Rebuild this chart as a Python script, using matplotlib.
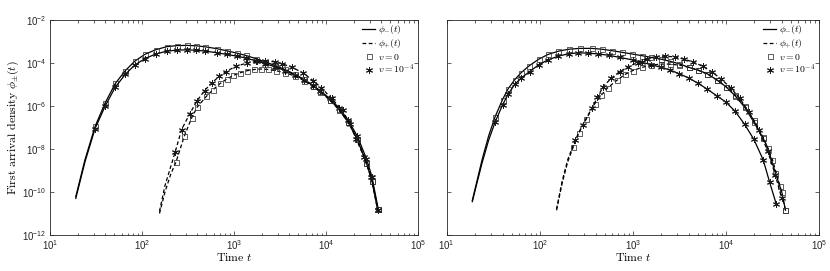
import numpy as np
import matplotlib
matplotlib.use("Agg")
import matplotlib.pyplot as plt
from matplotlib.lines import Line2D
from matplotlib.ticker import LogLocator, NullFormatter, NullLocator

plt.rcParams['font.family'] = ['Liberation Sans', 'DejaVu Sans']
plt.rcParams['mathtext.fontset'] = 'cm'

# values, stored as log10(t) and log10(phi)
# ---- left panel ----
L_minus_v0_t = [1.28, 1.38, 1.49, 1.60, 1.71, 1.82, 1.92, 2.03, 2.15, 2.27, 2.38, 2.49, 2.59,
                2.69, 2.81, 2.92, 3.03, 3.13, 3.24, 3.34, 3.45, 3.55, 3.66, 3.76, 3.86, 3.94,
                4.04, 4.14, 4.24, 4.34, 4.44, 4.50, 4.56]
L_minus_v0 = [-10.22, -8.5, -6.95, -5.85, -4.95, -4.35, -3.92, -3.6, -3.38, -3.24, -3.19, -3.18,
              -3.2, -3.25, -3.33, -3.43, -3.54, -3.65, -3.80, -3.95, -4.12, -4.30, -4.52, -4.76,
              -5.05, -5.32, -5.70, -6.15, -6.75, -7.55, -8.65, -9.5, -10.8]
L_minus_v1_t = [1.28, 1.38, 1.49, 1.60, 1.71, 1.82, 1.92, 2.03, 2.15, 2.27, 2.38, 2.49, 2.59,
                2.69, 2.81, 2.92, 3.03, 3.13, 3.24, 3.34, 3.45, 3.55, 3.66, 3.76, 3.86, 3.94,
                4.04, 4.14, 4.24, 4.34, 4.44, 4.50, 4.57]
L_minus_v1 = [-10.3, -8.6, -7.05, -6.0, -5.12, -4.52, -4.1, -3.8, -3.58, -3.45, -3.40, -3.39,
              -3.41, -3.45, -3.52, -3.60, -3.68, -3.77, -3.90, -4.03, -4.18, -4.35, -4.55, -4.78,
              -5.05, -5.3, -5.65, -6.08, -6.65, -7.4, -8.45, -9.3, -10.85]
L_plus_v0_t = [2.19, 2.25, 2.31, 2.37, 2.46, 2.54, 2.60, 2.70, 2.77, 2.85, 2.92, 2.99, 3.07,
               3.14, 3.22, 3.29, 3.37, 3.46, 3.55, 3.66, 3.76, 3.86, 3.94, 4.04, 4.14, 4.24,
               4.34, 4.44, 4.50, 4.56]
L_plus_v0 = [-11.0, -10.0, -9.2, -8.6, -7.4, -6.55, -6.05, -5.55, -5.25, -4.95, -4.75, -4.58,
             -4.45, -4.36, -4.30, -4.28, -4.30, -4.36, -4.45, -4.6, -4.82, -5.08, -5.35, -5.72,
             -6.17, -6.75, -7.55, -8.65, -9.5, -10.8]
L_plus_v1_t = [2.19, 2.25, 2.31, 2.36, 2.43, 2.52, 2.60, 2.68, 2.76, 2.84, 2.91, 3.02, 3.14,
               3.25, 3.34, 3.45, 3.52, 3.63, 3.75, 3.86, 3.95, 4.06, 4.18, 4.26, 4.33, 4.41,
               4.49, 4.57]
L_plus_v1 = [-10.9, -9.7, -8.85, -8.15, -7.1, -6.35, -5.75, -5.28, -4.92, -4.62, -4.40, -4.16,
             -4.0, -3.92, -3.9, -3.95, -4.03, -4.2, -4.46, -4.82, -5.15, -5.65, -6.2, -6.85,
             -7.55, -8.35, -9.3, -10.85]

# ---- right panel ----
R_minus_v0_t = [1.275, 1.33, 1.38, 1.45, 1.52, 1.60, 1.66, 1.73, 1.80, 1.88, 1.99, 2.09, 2.20,
                2.31, 2.43, 2.56, 2.67, 2.78, 2.88, 2.99, 3.1, 3.2, 3.3, 3.4, 3.5, 3.6, 3.7,
                3.8, 3.9, 4.0, 4.1, 4.2, 4.3, 4.4, 4.45, 4.53, 4.6, 4.64]
R_minus_v0 = [-10.4, -9.4, -8.5, -7.4, -6.5, -5.7, -5.2, -4.78, -4.45, -4.15, -3.82, -3.6, -3.45,
              -3.36, -3.32, -3.32, -3.36, -3.43, -3.5, -3.58, -3.66, -3.74, -3.82, -3.92, -4.04,
              -4.2, -4.33, -4.5, -4.78, -5.1, -5.53, -6.05, -6.75, -7.5, -7.95, -9.1, -10.0, -10.85]
R_minus_v1_t = [1.275, 1.33, 1.38, 1.45, 1.52, 1.60, 1.66, 1.73, 1.80, 1.89, 1.99, 2.09, 2.20,
                2.31, 2.41, 2.52, 2.63, 2.74, 2.86, 3.0, 3.1, 3.2, 3.3, 3.4, 3.5, 3.6, 3.7,
                3.8, 3.9, 4.0, 4.1, 4.2, 4.3, 4.4, 4.47, 4.54]
R_minus_v1 = [-10.45, -9.5, -8.65, -7.6, -6.75, -5.95, -5.45, -5.0, -4.7, -4.4, -4.08, -3.85,
              -3.68, -3.57, -3.53, -3.54, -3.58, -3.64, -3.74, -3.86, -3.97, -4.08, -4.2, -4.33,
              -4.5, -4.7, -4.94, -5.22, -5.52, -5.82, -6.25, -6.85, -7.55, -8.5, -9.55, -10.55]
R_plus_v0_t = [2.18, 2.24, 2.30, 2.36, 2.42, 2.50, 2.59, 2.66, 2.73, 2.83, 2.92, 3.0, 3.1, 3.2,
               3.3, 3.4, 3.5, 3.6, 3.7, 3.8, 3.9, 4.0, 4.1, 4.2, 4.3, 4.4, 4.5, 4.58, 4.64]
R_plus_v0 = [-10.85, -9.6, -8.6, -7.9, -7.25, -6.6, -5.9, -5.5, -5.15, -4.8, -4.52, -4.35, -4.2,
             -4.1, -4.05, -4.05, -4.1, -4.2, -4.33, -4.52, -4.78, -5.1, -5.5, -6.0, -6.65, -7.45,
             -8.5, -9.7, -10.85]
R_plus_v1_t = [2.18, 2.24, 2.30, 2.38, 2.46, 2.56, 2.62, 2.68, 2.77, 2.86, 2.95, 3.05, 3.15,
               3.25, 3.35, 3.45, 3.55, 3.65, 3.75, 3.85, 3.95, 4.05, 4.15, 4.25, 4.35, 4.45,
               4.53, 4.60]
R_plus_v1 = [-10.8, -9.5, -8.5, -7.6, -6.88, -6.1, -5.6, -5.1, -4.7, -4.4, -4.18, -3.98, -3.8,
             -3.70, -3.68, -3.72, -3.82, -3.96, -4.15, -4.42, -4.75, -5.15, -5.65, -6.3, -7.1,
             -8.1, -9.2, -10.3]

# index of the first point that carries a marker (simulation points start later than theory)
left_marker_start = {'minus': 2, 'plus': 3}
right_marker_start = {'minus': 4, 'plus': 3}

sq_style = dict(ls='none', marker='s', ms=3.6, mfc='none', mec='#333333', mew=0.55)
st_style = dict(ls='none', marker=(6, 2, 0), ms=5.0, mec='#1a1a1a', mew=0.7)
dash = (3.0, 2.0)


def draw_panel(ax, curves, mstart):
    for (lt, lp, kind, v) in curves:
        t = 10 ** np.array(lt)
        p = 10 ** np.array(lp)
        if kind == 'minus':
            ax.plot(t, p, color='k', lw=0.9)
        else:
            ax.plot(t, p, color='k', lw=0.9, dashes=dash)
        style = sq_style if v == 0 else st_style
        ax.plot(t[mstart[kind]:], p[mstart[kind]:], **style)

    ax.set_xscale('log')
    ax.set_yscale('log')
    ax.set_xlim(1e1, 1e5)
    ax.set_ylim(1e-12, 1e-2)
    ax.set_yticks([1e-12, 1e-10, 1e-8, 1e-6, 1e-4, 1e-2])
    ax.yaxis.set_minor_locator(NullLocator())
    ax.xaxis.set_major_locator(LogLocator(base=10, numticks=10))
    ax.xaxis.set_minor_locator(LogLocator(base=10, subs=np.arange(2, 10), numticks=20))
    ax.xaxis.set_minor_formatter(NullFormatter())
    ax.tick_params(which='both', direction='in', top=True, right=True,
                   labelsize=7, colors='#262626', width=0.5)
    ax.tick_params(which='major', length=3, pad=2.5)
    ax.tick_params(which='minor', length=1.8)
    for s in ax.spines.values():
        s.set_linewidth(0.6)
        s.set_color('#262626')
    ax.set_xlabel(r'$\mathrm{Time}\ t$', fontsize=8.5, labelpad=0)

    handles = [Line2D([], [], color='k', lw=0.9),
               Line2D([], [], color='k', lw=0.9, dashes=dash),
               Line2D([], [], **sq_style),
               Line2D([], [], **st_style)]
    labels = [r'$\phi_{-}(t)$', r'$\phi_{+}(t)$', r'$v=0$', r'$v=10^{-4}$']
    ax.legend(handles, labels, loc='upper right', frameon=False, fontsize=7,
              handlelength=1.4, handletextpad=0.3, labelspacing=0.1,
              borderaxespad=0.15, borderpad=0.2)


fig = plt.figure(figsize=(8.3, 2.71), dpi=100)
ax1 = fig.add_axes([50 / 830, 36 / 271, 368 / 830, 215 / 271])
ax2 = fig.add_axes([446.7 / 830, 36 / 271, 372.3 / 830, 215 / 271])

draw_panel(ax1, [(L_minus_v0_t, L_minus_v0, 'minus', 0),
                 (L_minus_v1_t, L_minus_v1, 'minus', 1),
                 (L_plus_v0_t, L_plus_v0, 'plus', 0),
                 (L_plus_v1_t, L_plus_v1, 'plus', 1)], left_marker_start)
draw_panel(ax2, [(R_minus_v0_t, R_minus_v0, 'minus', 0),
                 (R_minus_v1_t, R_minus_v1, 'minus', 1),
                 (R_plus_v0_t, R_plus_v0, 'plus', 0),
                 (R_plus_v1_t, R_plus_v1, 'plus', 1)], right_marker_start)

ax1.set_ylabel(r'$\mathrm{First\ arrival\ density}\ \phi_{\pm}(t)$', fontsize=8.5, labelpad=1)
ax2.tick_params(labelleft=False)

fig.savefig('out.png', dpi=100)
